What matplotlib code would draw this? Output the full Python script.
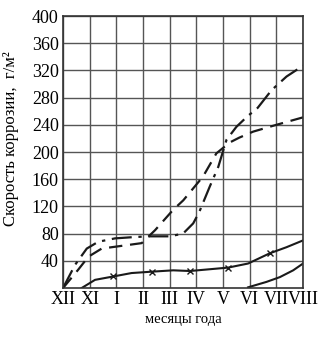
import matplotlib
matplotlib.use("Agg")
import matplotlib.pyplot as plt
import numpy as np

plt.rcParams['font.family'] = ['Liberation Serif', 'DejaVu Serif']

months = ['XII', 'XI', 'I', 'II', 'III', 'IV', 'V', 'VI', 'VII', 'VIII']
y_ticks = [40, 80, 120, 160, 200, 240, 280, 320, 360, 400]

# dash-dot curve
dd_x = [0, 0.45, 0.89, 1.32, 1.95, 2.7, 3.26, 4.0, 4.5, 4.88, 5.1, 5.5, 5.82, 6.13, 6.5, 6.9, 7.3, 7.82, 8.38, 9.0]
dd_y = [0, 34, 58, 68, 73, 75, 76, 76, 80, 95, 111, 149, 178, 218, 237, 252, 265, 291, 311, 327]

# dashed curve
da_x = [0, 0.57, 0.95, 1.45, 2.2, 2.95, 3.45, 4.13, 4.51, 5.25, 5.75, 6.25, 6.6, 7.13, 8.0, 9.0]
da_y = [0, 27, 46, 58, 62, 66, 85, 115, 129, 164, 198, 214, 221, 230, 240, 251]

# solid curve with x marks
sx_x = [0.7, 1.2, 1.89, 2.57, 3.32, 4.13, 4.76, 6.19, 6.94, 7.75, 8.38, 9.0]
sx_y = [0, 12, 17, 22, 24, 26, 25, 30, 36, 51, 60, 70]
mk_x = [1.89, 3.32, 4.76, 6.19, 7.75]
mk_y = [17, 24, 25, 30, 51]

# lowest solid curve
lo_x = [6.94, 7.63, 8.13, 8.63, 9.0]
lo_y = [1, 9, 16, 26, 36]

fig = plt.figure(figsize=(3.2, 3.37), dpi=100)
ax = fig.add_axes([0.197, 0.1454, 0.75, 0.807])

lc = '#1a1a1a'
ax.plot(dd_x, dd_y, color=lc, linewidth=1.6, linestyle=(0, (9, 3, 1.5, 3)))
ax.plot(da_x, da_y, color=lc, linewidth=1.6, linestyle=(0, (6, 3.5)))
ax.plot(sx_x, sx_y, color=lc, linewidth=1.5)
ax.plot(mk_x, mk_y, linestyle='none', marker='x', markersize=4.5, color=lc, markeredgewidth=1.0)
ax.plot(lo_x, lo_y, color=lc, linewidth=1.5)

ax.set_xlim(0, 9)
ax.set_ylim(0, 400)
ax.set_xticks(range(len(months)))
ax.set_xticklabels(months, fontsize=13)
ax.set_yticks(y_ticks)
ax.set_yticklabels([str(v) for v in y_ticks], fontsize=13)
ax.tick_params(axis='both', length=0, pad=3)
ax.tick_params(axis='x', pad=2)

ax.grid(True, color='#555555', linewidth=1.0)
for s in ax.spines.values():
    s.set_color('#333333')
    s.set_linewidth(1.2)

ax.set_xlabel('месяцы года', fontsize=10.5, labelpad=4)
ax.set_ylabel('Скорость коррозии,  г/м²', fontsize=12)
ax.yaxis.set_label_coords(-0.185, 0.55)

plt.savefig('out.png', dpi=100)
plt.close()
